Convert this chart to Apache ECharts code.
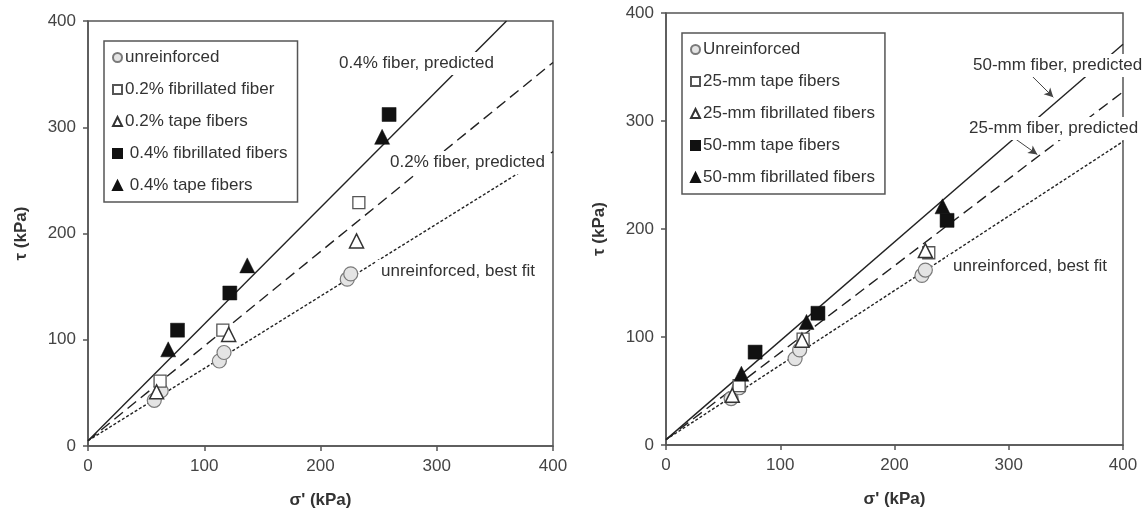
<!DOCTYPE html>
<html><head><meta charset="utf-8">
<script src="https://cdn.jsdelivr.net/npm/echarts@6/dist/echarts.min.js"></script>
<style>html,body{margin:0;padding:0;background:#fff}#c{width:1147px;height:515px}</style>
</head><body><div id="c"></div>
<script>
// ---- data: left panel (fiber content) ----
const L_unreinforced = [[57,43],[63,52],[113,80],[117,88],[223,157],[226,162]];
const L_fib02 = [[62,61],[116,109],[233,229]];
const L_tape02 = [[59,51],[121,105],[231,193]];
const L_fib04 = [[77,109],[122,144],[259,312]];
const L_tape04 = [[69,91],[137,170],[253,291]];
const L_fit04 = [[0,5],[360,400]];
const L_fit02 = [[0,5],[400,361]];
const L_fitUn = [[0,5],[400,277]];
const L_names = ['unreinforced','0.2% fibrillated fiber','0.2% tape fibers','0.4% fibrillated fibers','0.4% tape fibers'];
// ---- data: right panel (fiber length) ----
const R_unreinforced = [[57,43],[64,53],[113,80],[117,88],[224,157],[227,162]];
const R_tape25 = [[64,55],[120,98],[230,178]];
const R_fib25 = [[58,46],[119,97],[227,180]];
const R_tape50 = [[78,86],[133,122],[246,208]];
const R_fib50 = [[66,66],[123,114],[242,221]];
const R_fit50 = [[0,5],[400,371]];
const R_fit25 = [[0,5],[400,327]];
const R_fitUn = [[0,5],[400,281]];
const R_names = ['Unreinforced','25-mm tape fibers','25-mm fibrillated fibers','50-mm tape fibers','50-mm fibrillated fibers'];
// ---- axis ticks ----
const axisMin = 0, axisMax = 400, axisStep = 100;
// ---- annotations ----
const L_notes = ['0.4% fiber, predicted','0.2% fiber, predicted','unreinforced, best fit'];
const R_notes = ['50-mm fiber, predicted','25-mm fiber, predicted','unreinforced, best fit'];
const R_arrows = [[[319,343],[339,322]], [[305,284],[325,269]]];

const FONT = '"Liberation Sans", Arial, sans-serif';
const TXT = '#333';

function axisCommon(gridIndex, isX) {
  return {
    type:'value', gridIndex, min:axisMin, max:axisMax, interval:axisStep,
    splitLine:{show:false},
    axisLine:{show:true, onZero:false, lineStyle:{color:'#555', width:1.5}},
    axisTick:{show:true, inside:false, length:5, lineStyle:{color:'#555', width:1.5}},
    axisLabel:{fontSize:17, color:'#444', fontFamily:FONT, margin:12},
    name: isX ? "σ' (kPa)" : 'τ (kPa)',
    nameLocation:'middle',
    nameGap: isX ? 46 : 58,
    nameTextStyle:{fontSize:17, fontWeight:'bold', color:TXT, fontFamily:FONT}
  };
}

const circleStyle = {color:'#e4e4e4', borderColor:'#7a7a7a', borderWidth:1.2, opacity:1};
const openSq = {color:'#ffffff', borderColor:'#555', borderWidth:1.3, opacity:1};
const openTri = {color:'#ffffff', borderColor:'#333', borderWidth:1.5, opacity:1};
const filled = {color:'#111', borderColor:'#111', borderWidth:0.5, opacity:1};

function sc(name, data, idx, symbol, style, size) {
  return {type:'scatter', name, data, xAxisIndex:idx, yAxisIndex:idx,
    symbol, symbolSize:size, itemStyle:style, z:5};
}
function ln(data, idx, type, width) {
  return {type:'line', data, xAxisIndex:idx, yAxisIndex:idx, symbol:'none',
    silent:true, clip:true, lineStyle:{color:'#222', width, type}, z:3};
}

const series = [
  ln(L_fit04,0,'solid',1.4), ln(L_fit02,0,[11,6],1.4), ln(L_fitUn,0,[3,2],1.4),
  sc(L_names[0], L_unreinforced, 0, 'circle', circleStyle, 14),
  sc(L_names[1], L_fib02, 0, 'rect', openSq, 12),
  sc(L_names[2], L_tape02, 0, 'triangle', openTri, 14),
  sc(L_names[3], L_fib04, 0, 'rect', filled, 14),
  sc(L_names[4], L_tape04, 0, 'triangle', filled, 15),
  ln(R_fit50,1,'solid',1.4), ln(R_fit25,1,[11,6],1.4), ln(R_fitUn,1,[3,2],1.4),
  sc(R_names[0], R_unreinforced, 1, 'circle', circleStyle, 14),
  sc(R_names[1], R_tape25, 1, 'rect', openSq, 12),
  sc(R_names[2], R_fib25, 1, 'triangle', openTri, 14),
  sc(R_names[3], R_tape50, 1, 'rect', filled, 14),
  sc(R_names[4], R_fib50, 1, 'triangle', filled, 15)
];
// arrows on the right panel, in data coordinates
series[8].markLine = {
  silent:true, symbol:['none','arrow'], symbolSize:[7,9], label:{show:false},
  lineStyle:{color:'#444', width:1, type:'solid'},
  data: R_arrows.map(a => [{coord:a[0]},{coord:a[1]}])
};

function legend(names, left, top, lead) {
  return {
    data: names, orient:'vertical', left, top,
    backgroundColor:'#fff', borderColor:'#555', borderWidth:1.5,
    padding:[8,10,8,8], itemGap:15, itemWidth:9, itemHeight:9,
    textStyle:{fontSize:17, color:TXT, fontFamily:FONT, padding:[0,0,0,-2]},
    formatter: n => (lead && n.startsWith('0.4')) ? ' ' + n : n,
    selectedMode:false
  };
}

function note(text, x, y) {
  return {type:'text', left:x, top:y, z:100,
    style:{text, fontSize:17, fill:TXT, fontFamily:FONT,
      backgroundColor:'#fff', padding:[3,5,3,5]}};
}

const option = {
  backgroundColor:'#fff',
  animation:false,
  textStyle:{fontFamily:FONT},
  grid:[
    {left:88, right:594, top:21, bottom:69, show:true, borderColor:'#555', borderWidth:1.5, backgroundColor:'transparent'},
    {left:666, right:24, top:13, bottom:70, show:true, borderColor:'#555', borderWidth:1.5, backgroundColor:'transparent'}
  ],
  xAxis:[axisCommon(0,true), axisCommon(1,true)],
  yAxis:[axisCommon(0,false), axisCommon(1,false)],
  legend:[legend(L_names,104,41,true), legend(R_names,682,33,false)],
  series,
  graphic:[
    note(L_notes[0], 334, 52), note(L_notes[1], 385, 151), note(L_notes[2], 376, 260),
    note(R_notes[0], 968, 54), note(R_notes[1], 964, 117), note(R_notes[2], 948, 255)
  ]
};
const chart = echarts.init(document.getElementById('c'), null, {renderer:'canvas'});
chart.setOption(option);
</script></body></html>
